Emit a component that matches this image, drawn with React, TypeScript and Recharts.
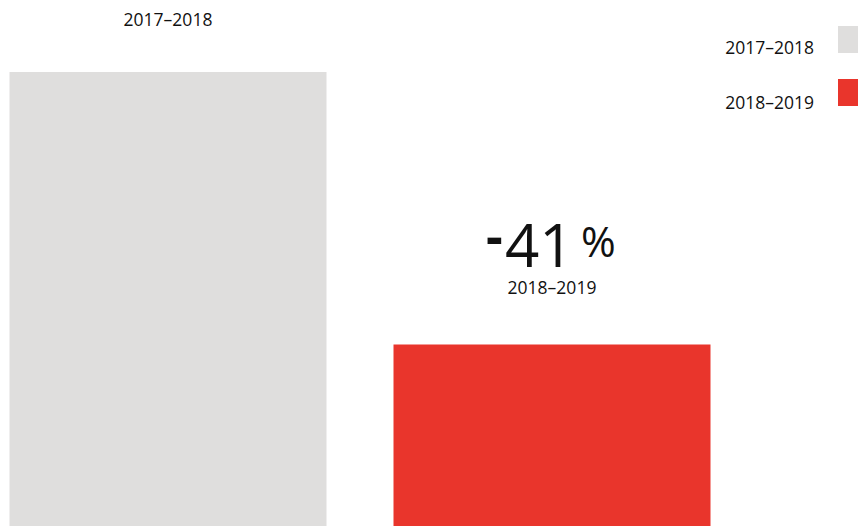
import { BarChart, Bar, Cell, XAxis, YAxis, Legend } from 'recharts';

// periods, values and the headline change as printed on the chart
const PERIODS = ['2017–2018', '2018–2019'];
const VALUES = [100, 40];
const COLORS = ['#dfdedd', '#e9352c'];
const CHANGE = ['-', '41', '%'];

const FONT = '"Open Sans", sans-serif';

const data = PERIODS.map((period, i) => ({ period, value: VALUES[i] }));

// label drawn above each bar: the period, plus the change figure over the last one
const renderBarLabel = (props: any) => {
  const { x, y, width, index } = props;
  const cx = Number(x) + Number(width) / 2;
  const top = Number(y);
  if (index === 0) {
    return (
      <text x={cx} y={top - 46} textAnchor="middle" fontSize={17.5} fill="#111" fontFamily={FONT}>
        {PERIODS[0]}
      </text>
    );
  }
  return (
    <g fontFamily={FONT} fill="#111">
      <text x={cx - 66} y={top - 89} fontSize={52} fontWeight={700}>
        {CHANGE[0]}
      </text>
      <text x={cx - 47} y={top - 77} fontSize={60}>
        {CHANGE[1]}
      </text>
      <text x={cx + 29} y={top - 87} fontSize={42}>
        {CHANGE[2]}
      </text>
      <text x={cx} y={top - 50} textAnchor="middle" fontSize={17.5}>
        {PERIODS[index]}
      </text>
    </g>
  );
};

const LegendBox = () => (
  <svg width={858} height={120} style={{ display: 'block' }}>
    {PERIODS.map((p, i) => (
      <g key={p}>
        <text x={814} y={54 + i * 55} textAnchor="end" fontSize={17.5} fill="#111" fontFamily={FONT}>
          {p}
        </text>
        <rect x={838} y={26 + i * 53} width={20} height={27} fill={COLORS[i]} />
      </g>
    ))}
  </svg>
);

export default function App() {
  return (
    <div style={{ position: 'absolute', left: 0, top: 0, fontFamily: FONT }}>
      <BarChart
        width={858}
        height={526}
        data={data}
        margin={{ top: 72, right: 114.5, bottom: 0, left: -24.5 }}
        barSize={317}
      >
        <XAxis dataKey="period" hide />
        <YAxis hide domain={[0, 100]} />
        <Legend
          layout="horizontal"
          align="center"
          verticalAlign="middle"
          content={() => <LegendBox />}
          wrapperStyle={{ top: 0, left: 0, width: 858, height: 120 }}
        />
        <Bar dataKey="value" isAnimationActive={false} label={renderBarLabel}>
          {data.map((d, i) => (
            <Cell key={d.period} fill={COLORS[i]} />
          ))}
        </Bar>
      </BarChart>
    </div>
  );
}
